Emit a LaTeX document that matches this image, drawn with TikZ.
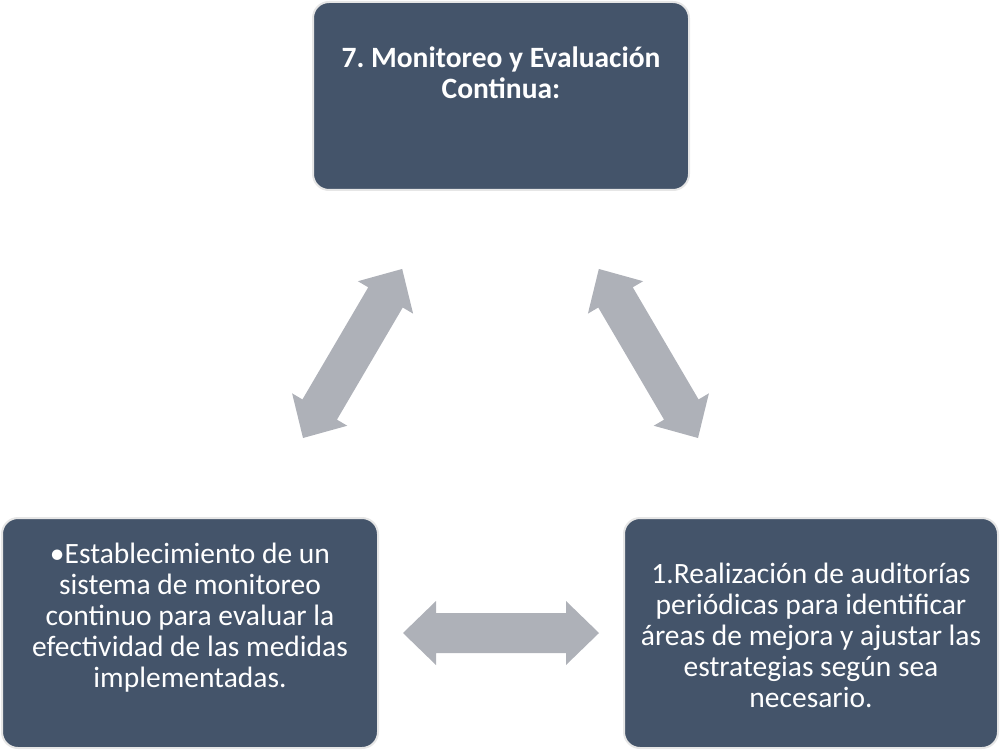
\documentclass[tikz,border=0pt]{standalone}
\usepackage{fontspec}
\setmainfont{Carlito}
\frenchspacing
\definecolor{boxfill}{HTML}{44546A}
\definecolor{boxline}{HTML}{E6E6E6}
\definecolor{arrowgray}{HTML}{AEB1B8}
\tikzset{
  box/.style={draw=boxline, line width=2pt, fill=boxfill, rounded corners=16pt,
    inner sep=0pt, text=white, align=center},
  dblarrow/.style={fill=arrowgray, draw=none}
}
\newcommand{\boxtext}[4]{\parbox[c][#1pt][t]{#2pt}{\centering\vspace*{#3pt}\fontsize{29.5}{31}\selectfont #4\par}}
% arrow polygon: length L along +x starting at origin
\newcommand{\dblarrowpath}[1]{(0,0) -- (33,32) -- (33,20) -- (#1-33,20) -- (#1-33,32) -- (#1,0) -- (#1-33,-32) -- (#1-33,-20) -- (33,-20) -- (33,-32) -- cycle}
\begin{document}
\begin{tikzpicture}[x=1pt,y=-1pt]
\useasboundingbox (0,0) rectangle (1000,751);
\node[box, minimum width=376pt, minimum height=188pt] (top) at (501,96)
  {\boxtext{188}{370}{45}{\bfseries 7. Monitoreo y Evaluación\\Continua:}};
\node[box, minimum width=376pt, minimum height=230pt] (left) at (190,633)
  {\boxtext{230}{370}{25}{•Establecimiento de un\\sistema de monitoreo\\continuo para evaluar la\\efectividad de las medidas\\implementadas.}};
\node[box, minimum width=374pt, minimum height=230pt] (right) at (811,633)
  {\boxtext{230}{368}{45}{1.Realización de auditorías\\periódicas para identificar\\áreas de mejora y ajustar las\\estrategias según sea\\necesario.}};
% arrows
\coordinate (aL) at (303,438);
\coordinate (aR) at (698,438);
\coordinate (aB) at (403,633);
\begin{scope}[shift={(aL)}, rotate=59.6]
  \fill[dblarrow] \dblarrowpath{196};
\end{scope}
\begin{scope}[shift={(aR)}, rotate=120.4]
  \fill[dblarrow] \dblarrowpath{196};
\end{scope}
\begin{scope}[shift={(aB)}]
  \fill[dblarrow] \dblarrowpath{196};
\end{scope}
\end{tikzpicture}
\end{document}
